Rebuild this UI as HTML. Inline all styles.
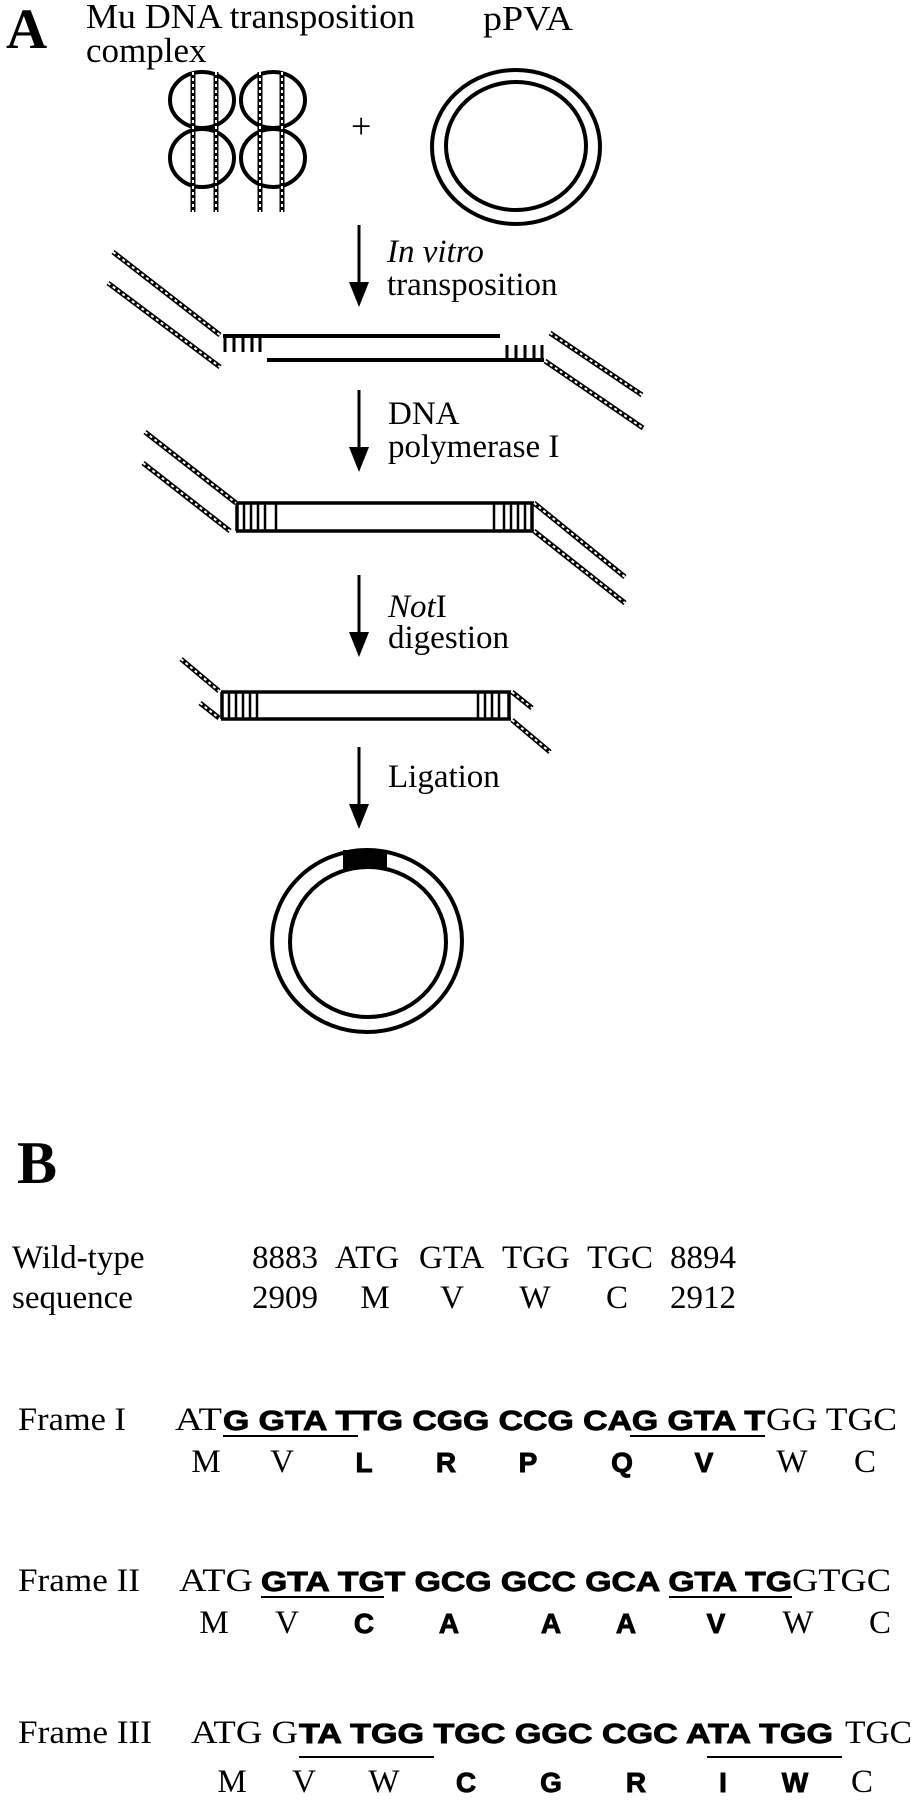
<!DOCTYPE html>
<html><head><meta charset="utf-8"><style>
html,body{margin:0;padding:0;background:#fff;}
svg{display:block;}
.s{font-family:"Liberation Serif",serif;}
.b{font-family:"Liberation Sans",sans-serif;font-weight:bold;stroke:#000;stroke-width:0.9;}
.ch{fill:none;stroke:#000;stroke-width:5;}
.cw{fill:none;stroke:#fff;stroke-width:2;stroke-dasharray:3 3;}
</style></head><body>
<svg width="915" height="1800" viewBox="0 0 915 1800" xmlns="http://www.w3.org/2000/svg">
<rect width="915" height="1800" fill="#fff"/>
<text class="s" x="6" y="48" font-size="57" font-weight="bold">A</text>
<text class="s" x="86" y="28" font-size="35" textLength="329" lengthAdjust="spacingAndGlyphs">Mu DNA transposition</text>
<text class="s" x="86" y="62" font-size="35">complex</text>
<text class="s" x="483" y="30" font-size="35" textLength="90" lengthAdjust="spacingAndGlyphs">pPVA</text>

<g fill="none" stroke="#000" stroke-width="4">
<ellipse cx="202" cy="100" rx="32" ry="28"/>
<ellipse cx="273" cy="100" rx="32" ry="28"/>
<ellipse cx="202" cy="158" rx="32" ry="29"/>
<ellipse cx="273" cy="158" rx="32" ry="29"/>
</g>
<g>
<line class="ch" x1="193" y1="72" x2="193" y2="212" stroke-width="4"/><line class="cw" x1="193" y1="72" x2="193" y2="212" stroke-width="1.5"/>
<line class="ch" x1="216" y1="72" x2="216" y2="212" stroke-width="4"/><line class="cw" x1="216" y1="72" x2="216" y2="212" stroke-width="1.5"/>
<line class="ch" x1="260" y1="72" x2="260" y2="212" stroke-width="4"/><line class="cw" x1="260" y1="72" x2="260" y2="212" stroke-width="1.5"/>
<line class="ch" x1="282" y1="72" x2="282" y2="212" stroke-width="4"/><line class="cw" x1="282" y1="72" x2="282" y2="212" stroke-width="1.5"/>
</g>
<text class="s" x="351" y="138" font-size="36">+</text>
<ellipse cx="516" cy="147" rx="84" ry="77" fill="none" stroke="#000" stroke-width="4"/>
<ellipse cx="516" cy="146" rx="70" ry="64" fill="none" stroke="#000" stroke-width="4"/>

<g stroke="#000" stroke-width="3">
<line x1="359" y1="225" x2="359" y2="285"/>
<line x1="359" y1="390" x2="359" y2="450"/>
<line x1="359" y1="575" x2="359" y2="635"/>
<line x1="359" y1="747" x2="359" y2="807"/>
</g>
<g fill="#000">
<polygon points="349,282 369,282 359,307"/>
<polygon points="349,447 369,447 359,472"/>
<polygon points="349,632 369,632 359,657"/>
<polygon points="349,804 369,804 359,829"/>
</g>
<text class="s" x="387" y="262" font-size="33" font-style="italic">In vitro</text>
<text class="s" x="387" y="295" font-size="33">transposition</text>
<text class="s" x="388" y="424" font-size="33">DNA</text>
<text class="s" x="388" y="457" font-size="33">polymerase I</text>
<text class="s" x="388" y="617" font-size="33"><tspan font-style="italic">Not</tspan>I</text>
<text class="s" x="388" y="648" font-size="33">digestion</text>
<text class="s" x="388" y="787" font-size="33">Ligation</text>

<g stroke="#000" stroke-width="4" fill="none">
<line x1="223" y1="336" x2="500" y2="336"/>
<line x1="267" y1="360" x2="544" y2="360"/>
</g>
<g stroke="#000" stroke-width="3">
<line x1="225" y1="336" x2="225" y2="352"/><line x1="234" y1="336" x2="234" y2="352"/><line x1="243" y1="336" x2="243" y2="352"/><line x1="252" y1="336" x2="252" y2="352"/><line x1="260" y1="336" x2="260" y2="352"/>
<line x1="507" y1="345" x2="507" y2="360"/><line x1="516" y1="345" x2="516" y2="360"/><line x1="525" y1="345" x2="525" y2="360"/><line x1="534" y1="345" x2="534" y2="360"/><line x1="542" y1="345" x2="542" y2="360"/>
</g>
<g>
<line class="ch" x1="113" y1="252" x2="220" y2="335"/><line class="cw" x1="113" y1="252" x2="220" y2="335"/>
<line class="ch" x1="108" y1="283" x2="220" y2="367"/><line class="cw" x1="108" y1="283" x2="220" y2="367"/>
<line class="ch" x1="550" y1="333" x2="642" y2="395"/><line class="cw" x1="550" y1="333" x2="642" y2="395"/>
<line class="ch" x1="545" y1="361" x2="643" y2="428"/><line class="cw" x1="545" y1="361" x2="643" y2="428"/>
</g>

<g stroke="#000" stroke-width="3.5" fill="none">
<line x1="236" y1="503" x2="534" y2="503"/>
<line x1="236" y1="531" x2="534" y2="531"/>
<line x1="237" y1="503" x2="237" y2="531"/>
<line x1="532" y1="503" x2="532" y2="531"/>
</g>
<g stroke="#000" stroke-width="2.5">
<line x1="244" y1="503" x2="244" y2="531"/><line x1="251" y1="503" x2="251" y2="531"/><line x1="258" y1="503" x2="258" y2="531"/><line x1="265" y1="503" x2="265" y2="531"/><line x1="276" y1="503" x2="276" y2="531"/>
<line x1="494" y1="503" x2="494" y2="531"/><line x1="504" y1="503" x2="504" y2="531"/><line x1="511" y1="503" x2="511" y2="531"/><line x1="518" y1="503" x2="518" y2="531"/><line x1="525" y1="503" x2="525" y2="531"/>
</g>
<g>
<line class="ch" x1="145" y1="432" x2="236" y2="503"/><line class="cw" x1="145" y1="432" x2="236" y2="503"/>
<line class="ch" x1="143" y1="463" x2="230" y2="531"/><line class="cw" x1="143" y1="463" x2="230" y2="531"/>
<line class="ch" x1="534" y1="503" x2="625" y2="577"/><line class="cw" x1="534" y1="503" x2="625" y2="577"/>
<line class="ch" x1="534" y1="531" x2="625" y2="603"/><line class="cw" x1="534" y1="531" x2="625" y2="603"/>
</g>

<g stroke="#000" stroke-width="3.5" fill="none">
<line x1="221" y1="692" x2="511" y2="692"/>
<line x1="221" y1="719" x2="511" y2="719"/>
<line x1="222" y1="692" x2="222" y2="719"/>
<line x1="509" y1="692" x2="509" y2="719"/>
</g>
<g stroke="#000" stroke-width="2.5">
<line x1="229" y1="692" x2="229" y2="719"/><line x1="236" y1="692" x2="236" y2="719"/><line x1="243" y1="692" x2="243" y2="719"/><line x1="250" y1="692" x2="250" y2="719"/><line x1="257" y1="692" x2="257" y2="719"/>
<line x1="478" y1="692" x2="478" y2="719"/><line x1="485" y1="692" x2="485" y2="719"/><line x1="492" y1="692" x2="492" y2="719"/><line x1="499" y1="692" x2="499" y2="719"/>
</g>
<g>
<line class="ch" x1="181" y1="659" x2="219" y2="691"/><line class="cw" x1="181" y1="659" x2="219" y2="691"/>
<line class="ch" x1="200" y1="703" x2="219" y2="718"/><line class="cw" x1="200" y1="703" x2="219" y2="718"/>
<line class="ch" x1="512" y1="692" x2="532" y2="708"/><line class="cw" x1="512" y1="692" x2="532" y2="708"/>
<line class="ch" x1="512" y1="720" x2="550" y2="752"/><line class="cw" x1="512" y1="720" x2="550" y2="752"/>
</g>

<ellipse cx="367" cy="941" rx="95" ry="91" fill="none" stroke="#000" stroke-width="4"/>
<ellipse cx="368" cy="942" rx="78" ry="75" fill="none" stroke="#000" stroke-width="4"/>
<rect x="343" y="850" width="44" height="19" fill="#000"/>

<text class="s" x="17" y="1183" font-size="60" font-weight="bold">B</text>
<g class="s" font-size="33">
<text x="12" y="1268">Wild-type</text>
<text x="12" y="1308">sequence</text>
<text x="252" y="1268">8883</text>
<text x="335" y="1268">ATG</text>
<text x="419" y="1268">GTA</text>
<text x="502" y="1268">TGG</text>
<text x="587" y="1268">TGC</text>
<text x="670" y="1268">8894</text>
<text x="252" y="1308">2909</text>
<g text-anchor="middle">
<text x="375" y="1308">M</text>
<text x="452" y="1308">V</text>
<text x="535" y="1308">W</text>
<text x="617" y="1308">C</text>
</g>
<text x="670" y="1308">2912</text>
</g>

<g class="s" font-size="33">
<text x="18" y="1430" textLength="108" lengthAdjust="spacingAndGlyphs">Frame I</text>
<text x="175" y="1430" textLength="47" lengthAdjust="spacingAndGlyphs">AT</text>
<text x="766" y="1430" textLength="131" lengthAdjust="spacingAndGlyphs">GG TGC</text>
</g>
<text class="b" x="223" y="1430" font-size="28" textLength="542" lengthAdjust="spacingAndGlyphs">G GTA TTG CGG CCG CAG GTA T</text>
<g stroke="#000" stroke-width="2"><line x1="223" y1="1436" x2="358" y2="1436"/><line x1="630" y1="1436" x2="765" y2="1436"/></g>
<g text-anchor="middle" font-size="33">
<text class="s" x="206" y="1472">M</text><text class="s" x="282" y="1472">V</text>
<text class="b" font-size="28" x="364" y="1472">L</text><text class="b" font-size="28" x="446" y="1472">R</text><text class="b" font-size="28" x="528" y="1472">P</text><text class="b" font-size="28" x="622" y="1472">Q</text><text class="b" font-size="28" x="704" y="1472">V</text>
<text class="s" x="792" y="1472">W</text><text class="s" x="865" y="1472">C</text>
</g>

<g class="s" font-size="33">
<text x="18" y="1591" textLength="122" lengthAdjust="spacingAndGlyphs">Frame II</text>
<text x="179" y="1591" textLength="74" lengthAdjust="spacingAndGlyphs">ATG</text>
<text x="792" y="1591" textLength="99" lengthAdjust="spacingAndGlyphs">GTGC</text>
</g>
<text class="b" x="261" y="1591" font-size="28" textLength="531" lengthAdjust="spacingAndGlyphs">GTA TGT GCG GCC GCA GTA TG</text>
<g stroke="#000" stroke-width="2"><line x1="261" y1="1597" x2="384" y2="1597"/><line x1="669" y1="1597" x2="792" y2="1597"/></g>
<g text-anchor="middle" font-size="33">
<text class="s" x="214" y="1633">M</text><text class="s" x="287" y="1633">V</text>
<text class="b" font-size="28" x="364" y="1633">C</text><text class="b" font-size="28" x="449" y="1633">A</text><text class="b" font-size="28" x="551" y="1633">A</text><text class="b" font-size="28" x="626" y="1633">A</text><text class="b" font-size="28" x="716" y="1633">V</text>
<text class="s" x="798" y="1633">W</text><text class="s" x="880" y="1633">C</text>
</g>

<g class="s" font-size="33">
<text x="18" y="1743" textLength="134" lengthAdjust="spacingAndGlyphs">Frame III</text>
<text x="191" y="1743" textLength="107" lengthAdjust="spacingAndGlyphs">ATG G</text>
<text x="845" y="1743" textLength="67" lengthAdjust="spacingAndGlyphs">TGC</text>
</g>
<text class="b" x="299" y="1743" font-size="28" textLength="534" lengthAdjust="spacingAndGlyphs">TA TGG TGC GGC CGC ATA TGG</text>
<g stroke="#000" stroke-width="2"><line x1="299" y1="1757" x2="434" y2="1757"/><line x1="707" y1="1757" x2="842" y2="1757"/></g>
<g text-anchor="middle" font-size="33">
<text class="s" x="232" y="1792">M</text><text class="s" x="304" y="1792">V</text><text class="s" x="384" y="1792">W</text>
<text class="b" font-size="28" x="466" y="1792">C</text><text class="b" font-size="28" x="551" y="1792">G</text><text class="b" font-size="28" x="636" y="1792">R</text><text class="b" font-size="28" x="723" y="1792">I</text><text class="b" font-size="28" x="795" y="1792">W</text>
<text class="s" x="862" y="1792">C</text>
</g>
</svg>
</body></html>
